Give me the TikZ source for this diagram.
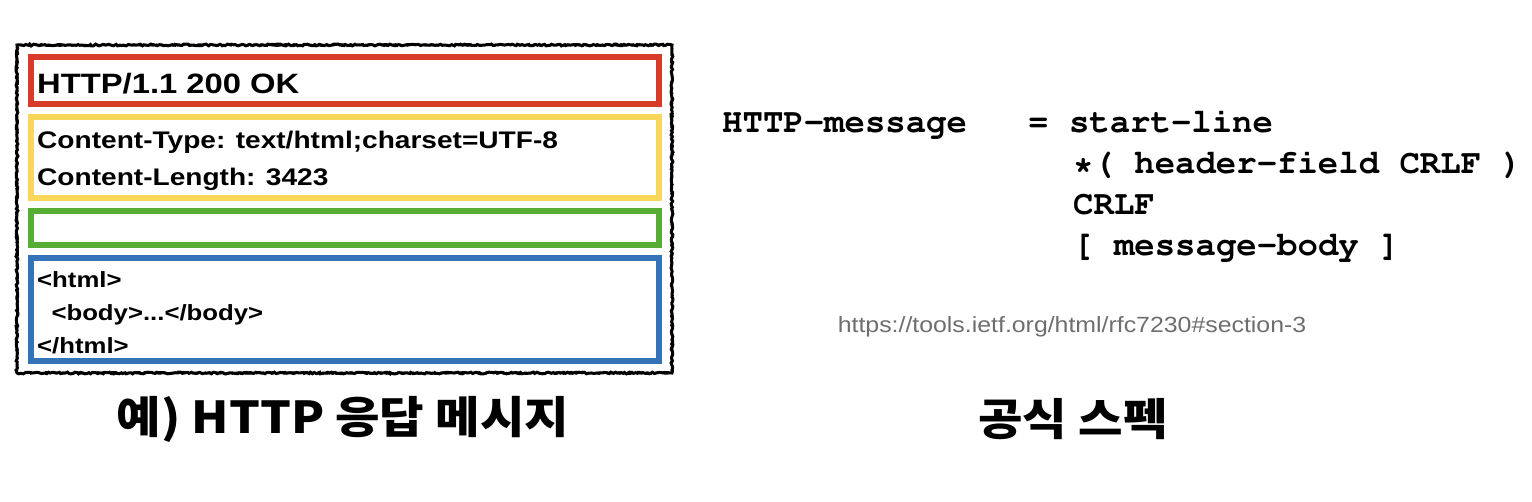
\documentclass[tikz,border=0pt]{standalone}
\usepackage[T1,TU]{fontenc}
\usepackage{fontspec}
\setmainfont{Liberation Sans}
\newfontfamily\msgfont{Liberation Sans}[FakeStretch=1.17]
\newfontfamily\urlfont{Liberation Sans}[FakeStretch=1.13]
\newfontfamily\kor{Noto Sans CJK KR}[FakeStretch=1.1]
\newcommand\courierfont{\fontencoding{T1}\fontfamily{pcr}\fontseries{b}\selectfont}
\usetikzlibrary{decorations.pathmorphing}
\definecolor{startred}{HTML}{D93B2B}
\definecolor{headyellow}{HTML}{FAD65A}
\definecolor{crlfgreen}{HTML}{57AE35}
\definecolor{bodyblue}{HTML}{3573B9}
\definecolor{urlgray}{HTML}{6E6E6E}

\begin{document}
\begin{tikzpicture}[x=1pt, y=-1pt,
  part/.style={line width=6pt},
  msg/.style={anchor=base west, inner sep=0pt, font=\fontsize{24}{28}\msgfont\bfseries},
  bodytext/.style={msg, font=\fontsize{22}{26}\msgfont\bfseries},
  spec/.style={anchor=base west, inner sep=0pt, font=\fontsize{34}{40}\courierfont},
  caption/.style={inner sep=0pt, font=\fontsize{44}{50}\kor\bfseries}]
\useasboundingbox (0,0) rectangle (1532,502);
% sketchy outer frame
\draw [line width=3pt, decorate, decoration={random steps, segment length=2pt, amplitude=0.9pt}] (17,45) rectangle (672,373);
\draw [line width=1.4pt, decorate, decoration={random steps, segment length=3pt, amplitude=1.3pt}] (17,45) rectangle (672,373);
% message parts
\draw [part, startred] (31,57) rectangle (659,104);
\draw [part, headyellow] (31,117) rectangle (659,198);
\draw [part, crlfgreen] (31,211) rectangle (659,245);
\draw [part, bodyblue] (31,258) rectangle (659,361);
\node (status) [msg, font=\fontsize{28}{32}\msgfont\bfseries] at (37,94) {HTTP/1.1 200 OK};
\node (ctype) [msg] at (37,149) {Content-Type: text/html;charset=UTF-8};
\node (clength) [msg] at (37,186) {Content-Length: 3423};
\node (html) [bodytext] at (37,288) {<html>};
\node (body) [bodytext] at (37,321) {\ \ <body>...</body>};
\node (htmlend) [bodytext] at (37,354) {</html>};
% grammar
\node (rule) [spec] at (722,133) {HTTP-message\ \ \ = start-line};
\node (fields) [spec] at (1073,174) {*( header-field CRLF )};
\node (crlf) [spec] at (1073,215) {CRLF};
\node (bodyrule) [spec] at (1073,256) {[ message-body ]};
\node (url) [anchor=base, inner sep=0pt, urlgray, font=\fontsize{22}{26}\urlfont] at (1072,333) {https://tools.ietf.org/html/rfc7230\#section-3};
% captions
\node (example) [caption] at (343,419) {예) HTTP 응답 메시지};
\node (official) [caption] at (1073,419) {공식 스펙};
\end{tikzpicture}
\end{document}
